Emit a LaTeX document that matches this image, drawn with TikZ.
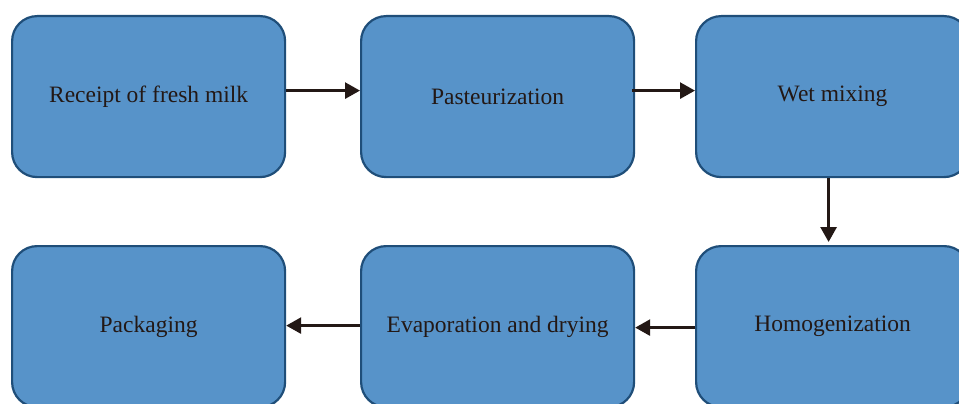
\documentclass[tikz,border=0pt]{standalone}
\usepackage{fontspec}
\setmainfont{Liberation Serif}
\usetikzlibrary{arrows.meta}
\definecolor{boxfill}{HTML}{5793C9}
\definecolor{boxline}{HTML}{1F4E79}
\definecolor{arrcol}{HTML}{231815}
\begin{document}
\begin{tikzpicture}[x=1pt,y=-1pt,
  stepbox/.style={draw=boxline, line width=2.2pt, fill=boxfill, rounded corners=25pt,
    minimum width=273pt, minimum height=161pt, inner sep=0pt, anchor=north west,
    font=\fontsize{23.5}{28}\selectfont, text=arrcol},
  arr/.style={draw=arrcol, line width=2.8pt, -{Triangle[length=15pt,width=16pt]}}]
\useasboundingbox (0,0) rectangle (959,404);
\clip (0,0) rectangle (959,404);
\node[stepbox] (b1) at (11,15) {Receipt of fresh milk};
\node[stepbox] (b2) at (360,15) {Pasteurization};
\node[stepbox] (b3) at (695,15) {Wet mixing};
\node[stepbox] (b6) at (695,245) {Homogenization};
\node[stepbox] (b5) at (360,245) {Evaporation and drying};
\node[stepbox] (b4) at (11,245) {Packaging};
\draw[arr] ([yshift=6pt]b1.east) -- ([yshift=6pt]b2.west);
\draw[arr] ([yshift=6pt,xshift=-3pt]b2.east) -- ([yshift=6pt]b3.west);
\draw[arr] ([xshift=-4pt]b3.south) -- ([xshift=-4pt,yshift=3pt]b6.north);
\draw[arr] ([yshift=-1pt]b6.west) -- ([yshift=-1pt]b5.east);
\draw[arr] ([yshift=1pt]b5.west) -- ([yshift=1pt]b4.east);
\end{tikzpicture}
\end{document}
